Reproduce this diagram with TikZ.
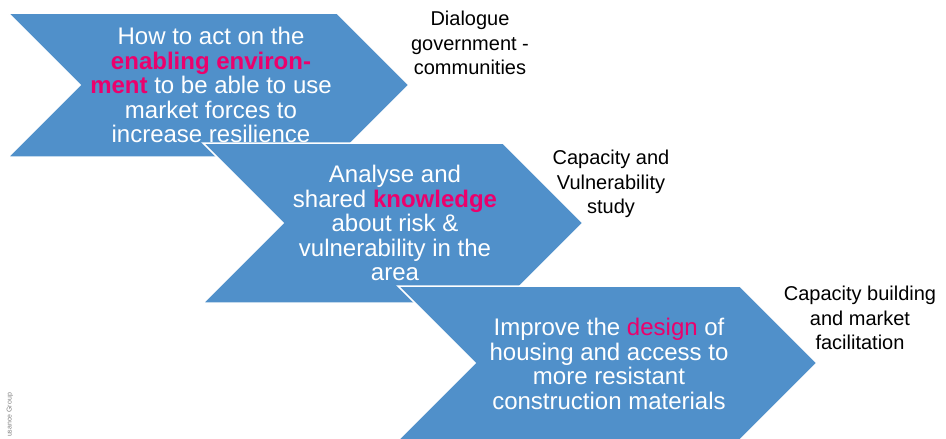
\documentclass[tikz,border=0pt]{standalone}
\usepackage{fontspec}
\setmainfont{Liberation Sans}
\definecolor{chevblue}{RGB}{80,144,202}
\definecolor{hotpink}{RGB}{236,0,108}
\newcommand{\hlbold}[1]{\textcolor{hotpink}{\textbf{#1}}}
\newcommand{\hlplain}[1]{\textcolor{hotpink}{#1}}

\begin{document}
\begin{tikzpicture}[x=1pt, y=-1pt,
		chevron/.style={fill=chevblue, draw=white, line width=1.5pt},
		steptext/.style={text=white, align=center, inner sep=0pt, font=\fontsize{24}{24.5}\selectfont},
		outcome/.style={align=center, inner sep=0pt, font=\fontsize{20}{24.5}\selectfont}]
		\useasboundingbox (0,0) rectangle (946,439);
		% step 1
		\draw[chevron] (8,13) -- (337,13) -- (409,85) -- (337,157) -- (8,157) -- (80,85) -- cycle;
		\node[steptext] (s1) at (211,85) {How to act on the\\\hlbold{enabling environ-}\\\hlbold{ment} to be able to use\\market forces to\\increase resilience};
		% step 2
		\draw[chevron] (203,143) -- (503,143) -- (583,223) -- (503,303) -- (203,303) -- (283,223) -- cycle;
		\node[steptext] (s2) at (395,223) {Analyse and\\shared \hlbold{knowledge}\\about risk \&\\vulnerability in the\\area};
		% step 3
		\draw[chevron] (398,286) -- (740,286) -- (817,363) -- (740,440) -- (398,440) -- (475,363) -- cycle;
		\node[steptext] (s3) at (609,364) {Improve the \hlplain{design} of\\housing and access to\\more resistant\\construction materials};
		% outcomes
		\node[outcome] (o1) at (470,43) {Dialogue\\government -\\communities};
		\node[outcome] (o2) at (611,184) {Capacity and\\Vulnerability\\study};
		\node[outcome] (o3) at (860,318) {Capacity building\\and market\\facilitation};
		\node[rotate=90, text=gray, inner sep=0pt, font=\fontsize{7}{8}\selectfont] (foot) at (10,415) {usance Group};
	\end{tikzpicture}
\end{document}
